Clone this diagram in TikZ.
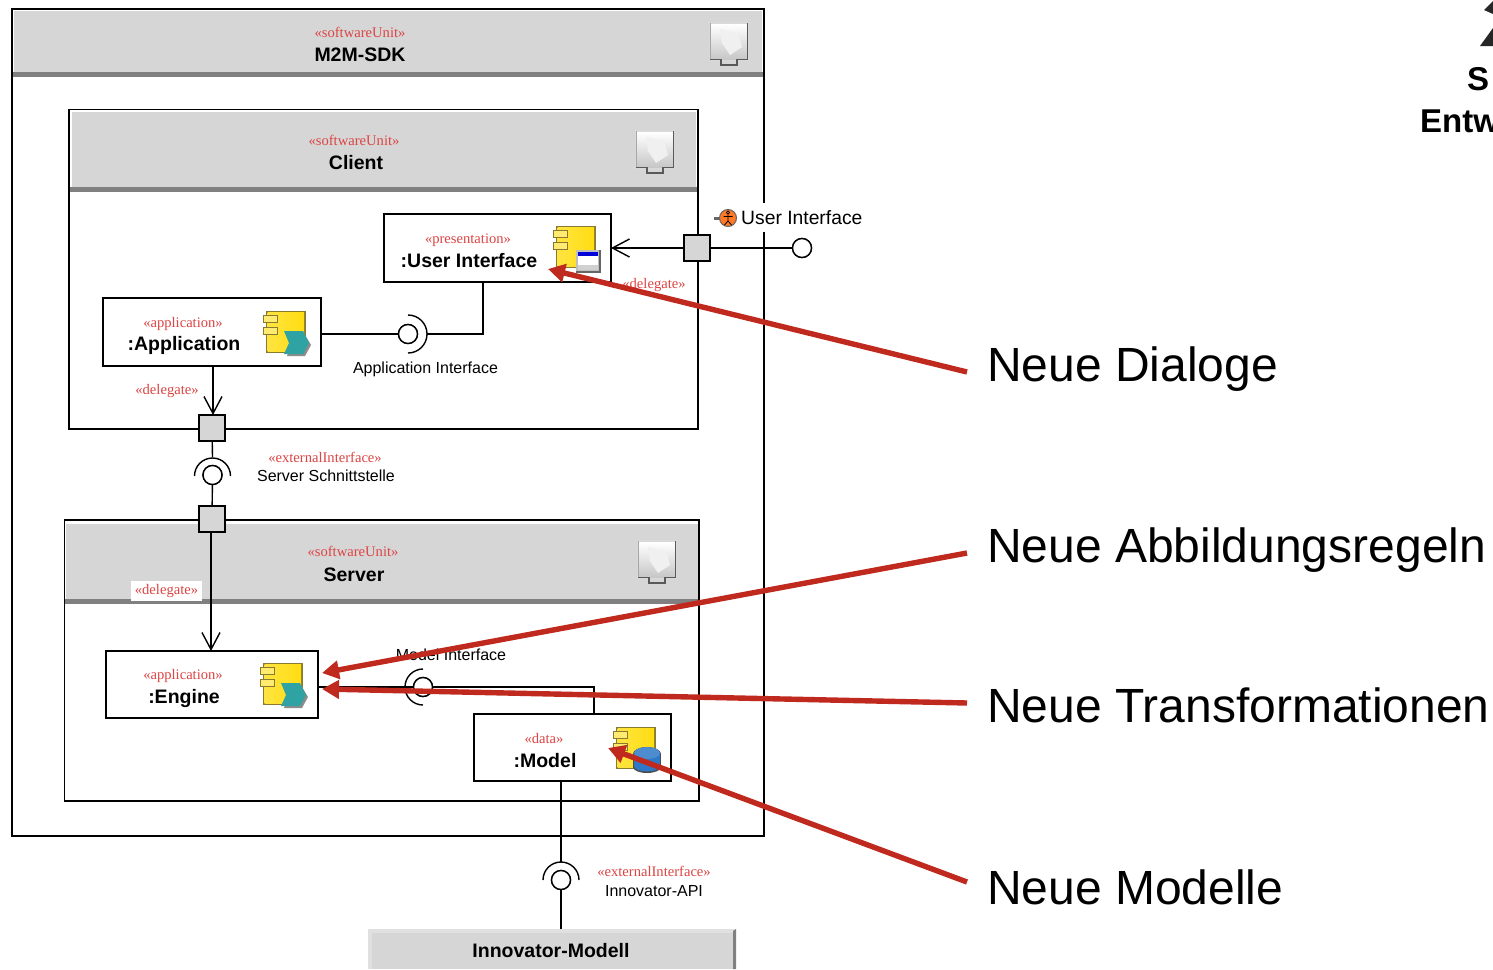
\documentclass[tikz,border=0pt]{standalone}
\usepackage{fontspec}
\setmainfont{Liberation Sans}
\newfontfamily\serifred{Liberation Serif}
\usetikzlibrary{arrows.meta}
\definecolor{hdr}{HTML}{D6D6D6}
\definecolor{hdrdark}{HTML}{808080}
\definecolor{stereo}{HTML}{DD4444}
\definecolor{callout}{HTML}{C02A1E}
\definecolor{compy}{HTML}{FFDD11}
\definecolor{compedge}{HTML}{8A7A30}
\definecolor{teal}{HTML}{2FA3A3}
\definecolor{dbblue}{HTML}{2F78C8}
\tikzset{
  x=1pt,y=1pt,
  line/.style={draw=black,line width=1.4pt},
  frame/.style={draw=black,line width=1.4pt,fill=white},
  header/.style={fill=hdr,draw=none},
  headerbar/.style={fill=hdrdark,draw=none},
  partbox/.style={draw=black,line width=1.4pt,fill=white,inner sep=0pt,outer sep=0pt},
  portbox/.style={draw=black,line width=1.4pt,fill=hdr,minimum size=26pt,inner sep=0pt,outer sep=0pt},
  lolli/.style={circle,draw=black,line width=1.4pt,fill=white,minimum size=19pt,inner sep=0pt,outer sep=0pt},
  stereotype/.style={text=stereo,font=\serifred\fontsize{14.6}{16}\selectfont,inner sep=0pt},
  partname/.style={font=\bfseries\fontsize{19.5}{22}\selectfont,inner sep=0pt},
  smalllabel/.style={font=\fontsize{16}{18}\selectfont,inner sep=0pt},
  bigtext/.style={font=\fontsize{48}{54}\selectfont,anchor=base west,inner sep=0pt},
  openarrow/.style={-{Straight Barb[length=17pt,width=18pt,line width=1.4pt]}},
  redarrow/.style={draw=callout,line width=5.4pt,-{Triangle[length=17pt,width=18pt]}},
}
\newcommand{\deployicon}[2]{%
  \begin{scope}[shift={(#1,-#2)}]
    \fill[black!15] (-1,1) rectangle (39,-38);
    \shade[top color=white,bottom color=black!22] (1,-1) rectangle (37,-36);
    \fill[black!6] (10,-6) -- (28,-10) -- (32,-24) -- (20,-32) -- (12,-20) -- cycle;
    \draw[black!65,line width=1.6pt] (37.5,0) -- (37.5,-36.5) -- (27,-36.5) -- (27,-42) -- (11,-42) -- (11,-36.5) -- (0,-36.5);
    \draw[black!35,line width=1pt] (0,-36) -- (0,0);
  \end{scope}}
\newcommand{\compbase}[2]{%
  \begin{scope}[shift={(#1,-#2)}]
    \fill[compedge] (2,0) rectangle (42,-42);
    \shade[top color=compy,bottom color=compy!85!orange,left color=compy!80!white,right color=compy] (3.5,-1.5) rectangle (40,-40);
    \draw[compedge,fill=compy!60!white,line width=1pt] (-1,-4) rectangle (13,-11);
    \draw[compedge,fill=compy!60!white,line width=1pt] (-1,-16) rectangle (13,-23);
  \end{scope}}
\newcommand{\tealover}[2]{%
  \begin{scope}[shift={(#1,-#2)}]
    \fill[black!45] (23,-24) -- (41,-24) -- (47,-34) -- (41,-45) -- (23,-45) -- (27,-34) -- cycle;
    \fill[teal] (20,-20) -- (39,-20) -- (45,-32) -- (39,-43) -- (20,-43) -- (25,-32) -- cycle;
  \end{scope}}
\newcommand{\windowover}[2]{%
  \begin{scope}[shift={(#1,-#2)}]
    \fill[black!60] (22,-24) rectangle (47,-47);
    \fill[black!25] (22,-24) rectangle (45,-45);
    \fill[white] (24,-26) rectangle (44,-44);
    \fill[blue!85!black] (24,-26) rectangle (44,-30);
    \fill[black!18] (24,-39) rectangle (44,-44);
  \end{scope}}
\newcommand{\dbover}[2]{%
  \begin{scope}[shift={(#1,-#2)}]
    \fill[black!70] (19,-27) rectangle (47,-40);
    \fill[black!70] (33,-40) ellipse[x radius=14pt,y radius=6pt];
    \fill[black!70] (33,-27) ellipse[x radius=14pt,y radius=7pt];
    \fill[dbblue] (20,-27) rectangle (46,-39);
    \fill[dbblue] (33,-39) ellipse[x radius=13pt,y radius=5.5pt];
    \fill[dbblue!85!white] (33,-26) ellipse[x radius=13pt,y radius=6pt];
  \end{scope}}
\begin{document}
\begin{tikzpicture}
\useasboundingbox (0,0) rectangle (1493,-969);
\clip (0,0) rectangle (1493,-969);
\fill[white] (0,0) rectangle (1493,-969);

% outer unit
\draw[frame] (12,-9) rectangle (764,-836);
\fill[header] (14,-11) rectangle (762,-73);
\fill[headerbar] (13,-72) rectangle (763,-76.5);
\node[stereotype] (sdkS) at (360,-32) {«softwareUnit»};
\node[partname] (sdkN) at (360,-55) {M2M-SDK};
\deployicon{710}{23}

% client unit
\draw[frame] (69,-109.5) rectangle (698,-429);
\fill[header] (71.5,-112) rectangle (696,-188);
\fill[headerbar] (70,-187) rectangle (697,-192);
\node[stereotype] (cliS) at (354,-140) {«softwareUnit»};
\node[partname] (cliN) at (356,-163) {Client};
\deployicon{636}{131}

% server unit
\draw[frame] (64.5,-520) rectangle (699,-801);
\fill[header] (66,-524) rectangle (698,-600);
\fill[headerbar] (65,-599) rectangle (698,-603.5);
\node[stereotype] (srvS) at (353,-551) {«softwareUnit»};
\node[partname] (srvN) at (354,-575) {Server};
\deployicon{638}{541}

% parts
\node[partbox,minimum width=227pt,minimum height=68pt] (ui) at (497.5,-248) {};
\node[partbox,minimum width=218pt,minimum height=68pt] (app) at (212,-332) {};
\node[partbox,minimum width=212pt,minimum height=67pt] (eng) at (212,-684.5) {};
\node[partbox,minimum width=197pt,minimum height=67pt] (mod) at (572.5,-747.5) {};

% ports and lollipops
\node[portbox] (pUI) at (697,-248) {};
\node[portbox] (pCli) at (212,-428) {};
\node[portbox] (pSrv) at (212,-519) {};
\node[lolli] (lUI) at (802,-248) {};
\node[lolli] (lApp) at (408,-334) {};
\node[lolli] (lSrv) at (212.5,-475) {};
\node[lolli] (lMod) at (423,-687) {};
\node[lolli] (lInn) at (561,-880) {};

% Innovator box
\fill[black!12] (368,-929) rectangle (736,-969);
\fill[hdr] (371.5,-933) rectangle (733,-969);
\fill[hdrdark] (733,-931) -- (736,-929) -- (736,-969) -- (733,-969) -- cycle;
\node[partname] (innN) at (551,-951) {Innovator-Modell};

% named connection points
\coordinate (uiIn) at (ui.east);
\coordinate (appOut) at (app.east |- lApp);
\coordinate (uiDown) at (483,-282);
\coordinate (appDown) at (213,-366);
\coordinate (engTop) at (211,-651);
\coordinate (srvDown) at (211,-532);
\coordinate (engOut) at (318,-687);
\coordinate (modUp) at (594,-714);
\coordinate (modDown) at (561,-781);
\coordinate (innTop) at (561,-929);
\coordinate (sockApp) at (427,-334);
\coordinate (sockSrv) at (212.5,-457);
\coordinate (sockInn) at (561,-862);

% connectors
\draw[line,openarrow] (pUI) -- (uiIn);
\draw[line] (pUI) -- (lUI);
\draw[line] (appOut) -- (lApp);
\draw[line] (sockApp) -| (uiDown);
\draw[line,openarrow] (appDown) -- (appDown |- pCli.north);
\draw[line] (pCli) -- (sockSrv);
\draw[line] (lSrv) -- (pSrv);
\draw[line,openarrow] (srvDown) -- (engTop);
\draw[line] (engOut) -- (lMod);
\draw[line] (lMod) -| (modUp);
\draw[line] (modDown) -- (sockInn);
\draw[line] (lInn) -- (innTop);

% redraw lollipops and sockets on top
\node[lolli] at (lUI) {};
\node[lolli] at (lApp) {};
\node[lolli] at (lSrv) {};
\node[lolli] at (lMod) {};
\node[lolli] at (lInn) {};
\draw[line] (408,-315) arc[start angle=90,end angle=-90,radius=19pt];
\draw[line] (194.5,-476) arc[start angle=180,end angle=0,radius=18pt];
\draw[line] (423,-669) arc[start angle=90,end angle=270,radius=18pt];
\draw[line] (543,-880) arc[start angle=180,end angle=0,radius=18pt];

% texts in parts
\node[stereotype] (uiS) at (468,-240) {«presentation»};
\node[partname] (uiN) at (469,-261) {:User Interface};
\node[stereotype] (appS) at (183,-324) {«application»};
\node[partname] (appN) at (184,-345) {:Application};
\node[stereotype] (engS) at (183,-676) {«application»};
\node[partname] (engN) at (184,-698) {:Engine};
\node[stereotype] (modS) at (544,-738) {«data»};
\node[partname] (modN) at (545,-761) {:Model};

% icons
\compbase{554}{226}\windowover{554}{226}
\compbase{264}{311}\tealover{264}{311}
\compbase{261}{663}\tealover{261}{663}
\compbase{614}{727}\dbover{614}{727}

% labels
\node[fill=white,inner sep=0pt,minimum width=150pt,minimum height=29pt] (uiLblBg) at (788,-217.5) {};
\fill[black!60] (714,-216.5) rectangle (722,-219.5);
\draw[draw=black!60,fill=orange!75!red!85!white,line width=1pt] (728,-218) circle[radius=8.5pt];
\draw[black,line width=.8pt] (728,-212.5) circle[radius=1.6pt] (728,-214) -- (728,-221) (723.5,-216.5) -- (732.5,-216.5) (728,-221) -- (724.5,-225) (728,-221) -- (731.5,-225);
\node[font=\fontsize{19.3}{22}\selectfont,inner sep=0pt,anchor=west] (uiLbl) at (741,-217.5) {User Interface};
\node[stereotype] (dl1) at (654,-285) {«delegate»};
\node[stereotype] (dl2) at (167,-391) {«delegate»};
\node[stereotype,fill=white,minimum width=71pt,minimum height=20pt,text depth=3pt] (dl3) at (166.5,-590.5) {«delegate»};
\node[smalllabel] (appI) at (425.5,-369) {Application Interface};
\node[stereotype] (ext1) at (325,-457) {«externalInterface»};
\node[smalllabel] (srvI) at (326,-476) {Server Schnittstelle};
\node[stereotype] (ext2) at (654,-871) {«externalInterface»};
\node[smalllabel] (innI) at (654,-891) {Innovator-API};
\node[smalllabel] (modI) at (451,-655) {Model Interface};

% top right fragment
\fill[black!85] (1484,-10) -- (1493,-1) -- (1493,-14) -- cycle;
\fill[black!85] (1480,-46) -- (1493,-28) -- (1493,-46) -- cycle;
\node[font=\bfseries\fontsize{33}{36}\selectfont,inner sep=0pt,anchor=west] (frag1) at (1467,-79) {S};
\node[font=\bfseries\fontsize{33}{36}\selectfont,inner sep=0pt,anchor=west] (frag2) at (1420,-121) {Entw};

% callouts
\node[bigtext] (t1) at (987,-381) {Neue Dialoge};
\node[bigtext] (t2) at (987,-562) {Neue Abbildungsregeln};
\node[bigtext] (t3) at (987,-722) {Neue Transformationen};
\node[bigtext] (t4) at (987,-904) {Neue Modelle};
\coordinate (c1) at (967,-372);
\coordinate (c2) at (967,-553);
\coordinate (c3) at (967,-703);
\coordinate (c4) at (967,-882);
\coordinate (a1) at (548,-269);
\coordinate (a2) at (322,-673);
\coordinate (a3) at (322,-689);
\coordinate (a4) at (608,-748);
\draw[redarrow] (c1) -- (a1);
\draw[redarrow] (c2) -- (a2);
\draw[redarrow] (c3) -- (a3);
\draw[redarrow] (c4) -- (a4);
\end{tikzpicture}
\end{document}
